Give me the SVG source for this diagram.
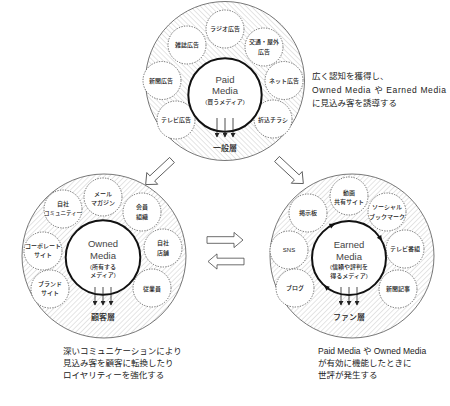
<svg xmlns="http://www.w3.org/2000/svg" width="450" height="406" viewBox="0 0 450 406">
<style>
.outer{stroke:#555;stroke-width:0.8}
.inner{fill:#fff;stroke:#111;stroke-width:2}
.sub{fill:#fff;stroke:#333;stroke-width:0.7;stroke-dasharray:1.3 1.3}
.t{font-family:"Liberation Sans","Noto Sans CJK JP",sans-serif;fill:#222;text-anchor:middle}
.s{font-size:6px;font-weight:500}
.m{font-size:9.5px;fill:#444}
.p{font-size:6px;font-weight:500}
.lay{font-size:8px;font-weight:500}
.note{font-family:"Liberation Sans","Noto Sans CJK JP",sans-serif;font-size:8.5px;fill:#222}
.dl{stroke:#222;stroke-width:0.8;marker-end:url(#tri)}
.blk{fill:#fff;stroke:#444;stroke-width:0.8}
</style>
<defs>
<pattern id="hatchB" width="3.6" height="3.6" patternUnits="userSpaceOnUse" patternTransform="rotate(-45)">
<line x1="0" y1="0" x2="0" y2="3.6" stroke="#a0a0a0" stroke-width="0.55"/>
</pattern>
<pattern id="hatchF" width="3.6" height="3.6" patternUnits="userSpaceOnUse" patternTransform="rotate(45)">
<line x1="0" y1="0" x2="0" y2="3.6" stroke="#a0a0a0" stroke-width="0.55"/>
</pattern>
<marker id="tri" markerWidth="5" markerHeight="5" refX="4" refY="2.5" orient="auto" markerUnits="userSpaceOnUse">
<path d="M0,0 L4.5,2.5 L0,5 Z" fill="#222"/>
</marker>
<path id="blockArrow" d="M0,-3.5 L27,-3.5 L27,-8 L36,0 L27,8 L27,3.5 L0,3.5 Z"/>
<path id="ah" d="M3,0 L-2.5,-2.6 L-2.5,2.6 Z" fill="#111"/>
</defs>

<g id="paid">
<circle class="outer" cx="225" cy="81" r="79.5" fill="url(#hatchB)"/>
<circle class="sub" cx="225" cy="29" r="19"/>
<circle class="sub" cx="264" cy="47" r="19"/>
<circle class="sub" cx="284" cy="80.5" r="19"/>
<circle class="sub" cx="273" cy="119" r="19"/>
<circle class="sub" cx="187" cy="45" r="19"/>
<circle class="sub" cx="162" cy="80.5" r="19"/>
<circle class="sub" cx="176" cy="120" r="19"/>
<text class="t s" x="225" y="31">ラジオ広告</text>
<text class="t s" x="264" y="44">交通・屋外</text>
<text class="t s" x="264" y="54">広告</text>
<text class="t s" x="284" y="82.5">ネット広告</text>
<text class="t s" x="273" y="121.5">折込チラシ</text>
<text class="t s" x="187" y="47">雑誌広告</text>
<text class="t s" x="161" y="82.5">新聞広告</text>
<text class="t s" x="176" y="122">テレビ広告</text>
<circle class="inner" cx="225" cy="95" r="36.7"/>
<text class="t m" x="225" y="83.3">Paid</text>
<text class="t m" x="225" y="94">Media</text>
<text class="t p" x="225" y="103.5">(買うメディア)</text>
<line class="dl" x1="217" y1="118" x2="217" y2="137"/>
<line class="dl" x1="225" y1="118" x2="225" y2="137"/>
<line class="dl" x1="233" y1="118" x2="233" y2="137"/>
<text class="t lay" x="225" y="150.5">一般層</text>
</g>

<g id="owned">
<circle class="outer" cx="104" cy="256" r="82" fill="url(#hatchF)"/>
<circle class="sub" cx="103" cy="197" r="19"/>
<circle class="sub" cx="63" cy="209" r="19"/>
<circle class="sub" cx="142" cy="212" r="19"/>
<circle class="sub" cx="43" cy="251" r="19"/>
<circle class="sub" cx="163" cy="248" r="19"/>
<circle class="sub" cx="50" cy="289" r="19"/>
<circle class="sub" cx="152" cy="288" r="19"/>
<text class="t s" x="103" y="196">メール</text>
<text class="t s" x="103" y="204.5">マガジン</text>
<text class="t s" x="63" y="206">自社</text>
<text class="t s" style="font-size:5.5px" x="63" y="215">コミュニティー</text>
<text class="t s" x="142" y="209">会員</text>
<text class="t s" x="142" y="219">組織</text>
<text class="t s" x="43" y="248">コーポレート</text>
<text class="t s" x="43" y="257">サイト</text>
<text class="t s" x="163" y="245">自社</text>
<text class="t s" x="163" y="254.5">店舗</text>
<text class="t s" x="50" y="286">ブランド</text>
<text class="t s" x="50" y="295">サイト</text>
<text class="t s" x="152" y="290.5">従業員</text>
<circle class="inner" cx="103" cy="257.5" r="37.3"/>
<text class="t m" x="103" y="247">Owned</text>
<text class="t m" x="103" y="259">Media</text>
<text class="t p" x="103" y="268.5">(所有する</text>
<text class="t p" x="103" y="277">メディア)</text>
<line class="dl" x1="95" y1="287" x2="95" y2="305"/>
<line class="dl" x1="103" y1="287" x2="103" y2="305"/>
<line class="dl" x1="111" y1="287" x2="111" y2="305"/>
<text class="t lay" x="103" y="320">顧客層</text>
</g>

<g id="earned">
<circle class="outer" cx="352" cy="256" r="82" fill="url(#hatchF)"/>
<circle class="sub" cx="349" cy="196" r="19"/>
<circle class="sub" cx="308" cy="213" r="19"/>
<circle class="sub" cx="387" cy="212" r="19"/>
<circle class="sub" cx="289" cy="250" r="19"/>
<circle class="sub" cx="405" cy="249" r="19"/>
<circle class="sub" cx="295" cy="288" r="19"/>
<circle class="sub" cx="398" cy="289" r="19"/>
<text class="t s" x="349" y="195">動画</text>
<text class="t s" x="349" y="204">共有サイト</text>
<text class="t s" x="308" y="215">掲示板</text>
<text class="t s" x="387" y="209">ソーシャル</text>
<text class="t s" x="387" y="219">ブックマーク</text>
<text class="t s" x="289" y="252">SNS</text>
<text class="t s" x="405" y="251">テレビ番組</text>
<text class="t s" x="295" y="290">ブログ</text>
<text class="t s" x="398" y="291">新聞記事</text>
<circle class="inner" cx="349" cy="258" r="37"/>
<use href="#ah" transform="translate(332.2,225) rotate(-27)"/>
<use href="#ah" transform="translate(380.4,238.4) rotate(58)"/>
<use href="#ah" transform="translate(326.2,287.2) rotate(218)"/>
<text class="t m" x="349" y="247.5">Earned</text>
<text class="t m" x="349" y="260">Media</text>
<text class="t p" x="349" y="269">(信頼や評判を</text>
<text class="t p" x="349" y="277.5">得るメディア)</text>
<line class="dl" x1="341" y1="287" x2="341" y2="305"/>
<line class="dl" x1="349" y1="287" x2="349" y2="305"/>
<line class="dl" x1="357" y1="287" x2="357" y2="305"/>
<text class="t lay" x="349" y="320">ファン層</text>
</g>

<g id="connectors">
<use href="#blockArrow" class="blk" transform="translate(172,160) rotate(137)"/>
<use href="#blockArrow" class="blk" transform="translate(277,159) rotate(43)"/>
<use href="#blockArrow" class="blk" transform="translate(207,240) scale(1,0.95)"/>
<use href="#blockArrow" class="blk" transform="translate(244,261.5) rotate(180) scale(1,0.95)"/>
</g>

<g id="notes">
<text class="note" x="312" y="79">広く認知を獲得し、</text>
<text class="note" x="312" y="92.5" textLength="134" lengthAdjust="spacing">Owned Media や Earned Media</text>
<text class="note" x="312" y="106">に見込み客を誘導する</text>
<text class="note" x="63" y="354">深いコミュニケーションにより</text>
<text class="note" x="63" y="366">見込み客を顧客に転換したり</text>
<text class="note" x="63" y="377.5">ロイヤリティーを強化する</text>
<text class="note" x="318" y="354">Paid Media や Owned Media</text>
<text class="note" x="318" y="366">が有効に機能したときに</text>
<text class="note" x="318" y="377.5">世評が発生する</text>
</g>
</svg>
